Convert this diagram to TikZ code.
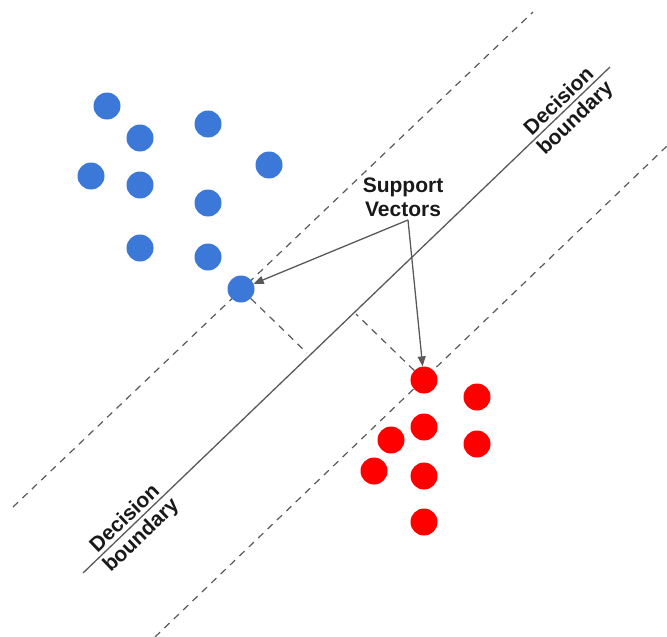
\documentclass[tikz,border=0pt]{standalone}
\usepackage{fontspec}
\setmainfont{Liberation Sans}
\usetikzlibrary{shapes,arrows.meta,positioning}
\definecolor{dotblue}{HTML}{3C78D8}
\definecolor{dotred}{HTML}{FF0000}
\definecolor{linegray}{HTML}{595959}
\tikzstyle{bnode} = [circle, fill=dotblue, inner sep=0pt, minimum size=27pt]
\tikzstyle{rnode} = [circle, fill=dotred, inner sep=0pt, minimum size=27pt]
\tikzstyle{margin} = [draw=linegray, line width=1.2pt, dash pattern=on 7pt off 6pt]
\tikzstyle{line} = [draw=linegray, line width=1.3pt]
\tikzstyle{arrow} = [draw=linegray, line width=1.3pt, -{Triangle[length=10pt,width=8pt]}]
\tikzstyle{tag} = [text=black!90, font=\fontsize{21}{24}\selectfont\bfseries]

\begin{document}
\begin{tikzpicture}[x=1pt, y=-1pt]
			\useasboundingbox (0,0) rectangle (667,637);
			
			% margins and the boundary between them
			\coordinate (m1a) at (13,507);
			\coordinate (m1b) at (533,12);
			\coordinate (db1) at (83,573);
			\coordinate (db2) at (610,67);
			\coordinate (m2a) at (155,637);
			\coordinate (m2b) at (667,146);
			\path [margin] (m1a) -- (m1b);
			\path [margin] (m2a) -- (m2b);
			\path [line] (db1) -- (db2)
				node [tag, pos=0.917, sloped, above] {Decision}
				node [tag, pos=0.917, sloped, below] {boundary}
				node [tag, pos=0.093, sloped, above] {Decision}
				node [tag, pos=0.093, sloped, below] {boundary};
			
			% class one
			\node [bnode] (b1) at (107,106) {};
			\node [bnode] (b2) at (140,138) {};
			\node [bnode] (b3) at (208,124) {};
			\node [bnode] (b4) at (269,165) {};
			\node [bnode] (b5) at (91,176) {};
			\node [bnode] (b6) at (140,185) {};
			\node [bnode] (b7) at (208,203) {};
			\node [bnode] (b8) at (140,248) {};
			\node [bnode] (b9) at (208,257) {};
			\node [bnode] (sv1) at (241,289) {};
			
			% class two
			\node [rnode] (sv2) at (424,380) {};
			\node [rnode] (r1) at (477,397) {};
			\node [rnode] (r2) at (424,427) {};
			\node [rnode] (r3) at (391,440) {};
			\node [rnode] (r4) at (477,444) {};
			\node [rnode] (r5) at (374,471) {};
			\node [rnode] (r6) at (424,476) {};
			\node [rnode] (r7) at (424,522) {};
			
			% distances to the boundary
			\coordinate (foot1) at (307,353);
			\coordinate (foot2) at (356,314);
			\path [margin] (sv1) -- (foot1);
			\path [margin] (sv2) -- (foot2);
			
			\node [tag, align=center] (sv) at (403,197) {Support\\Vectors};
			\coordinate (fork) at (408,220);
			\path [arrow] (fork) -- (sv1);
			\path [arrow] (fork) -- (sv2);
		\end{tikzpicture}
\end{document}
